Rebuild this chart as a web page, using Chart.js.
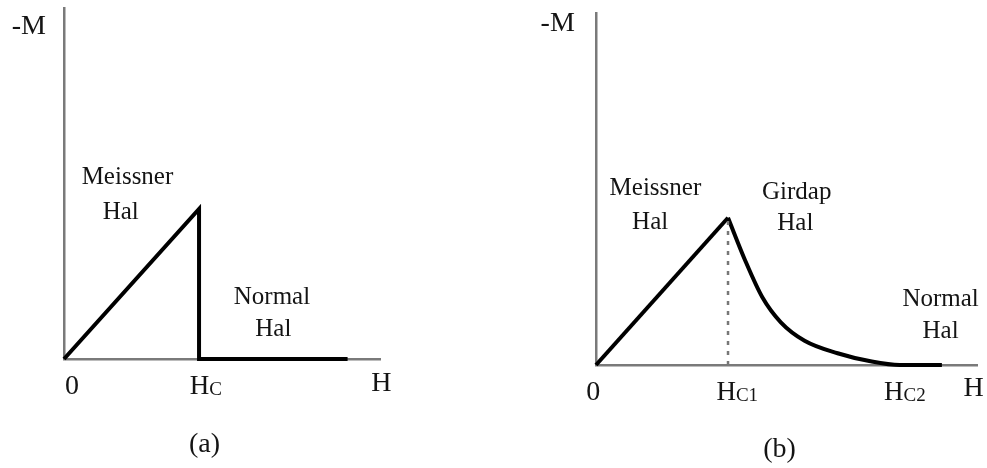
<!DOCTYPE html>
<html lang="tr">
<head>
    <meta charset="UTF-8">
    <title>Meissner / Girdap Hal</title>
    <script src="https://cdn.jsdelivr.net/npm/chart.js@4.4.1/dist/chart.umd.min.js"></script>
    <style>
        body { margin: 0; background: #fff; }
        .panel { position: absolute; top: 0; }
        #chartA { left: 0; }
        #chartB { left: 540px; }
    </style>
</head>
<body>
    <canvas id="chartA" class="panel" width="540" height="468"></canvas>
    <canvas id="chartB" class="panel" width="447" height="468"></canvas>

    <script>
        // (a) tip I: Meissner hali, Hc'de ani geçiş
        const hA = [0, 1, 1, 2.1];
        const mA = [0, 1, 0, 0];

        // (b) tip II: Meissner -> Girdap -> Normal
        const risingH = [0, 1];
        const risingM = [0, 1];
        const fallingH = [1, 1.13, 1.26, 1.40, 1.58, 1.83, 2.08, 2.3, 2.62];
        const fallingM = [1, 0.71, 0.46, 0.29, 0.165, 0.08, 0.025, 0, 0];
        const hc1GuideH = [1, 1];
        const hc1GuideM = [0, 1];

        // tick labels under the H axis
        const ticksA = [{ text: '0', x: 0.06 }, { text: 'H', sub: 'C', x: 1.05 }];
        const ticksB = [{ text: '0', x: -0.02 }, { text: 'H', sub: 'C1', x: 1.07 }, { text: 'H', sub: 'C2', x: 2.34 }];

        // region and axis labels, placed in data units
        const notesA = [
            { text: '-M', x: -0.26, y: 2.23, big: true },
            { text: 'Meissner', x: 0.47, y: 1.22 },
            { text: 'Hal', x: 0.42, y: 0.99 },
            { text: 'Normal', x: 1.54, y: 0.42 },
            { text: 'Hal', x: 1.55, y: 0.21 },
            { text: 'H', x: 2.35, y: -0.15, big: true },
            { text: '(a)', x: 1.04, y: -0.56, big: true }
        ];
        const notesB = [
            { text: '-M', x: -0.29, y: 2.33, big: true },
            { text: 'Meissner', x: 0.45, y: 1.21 },
            { text: 'Hal', x: 0.41, y: 0.98 },
            { text: 'Girdap', x: 1.52, y: 1.18 },
            { text: 'Hal', x: 1.51, y: 0.97 },
            { text: 'Normal', x: 2.61, y: 0.46 },
            { text: 'Hal', x: 2.61, y: 0.24 },
            { text: 'H', x: 2.86, y: -0.15, big: true },
            { text: '(b)', x: 1.39, y: -0.56, big: true }
        ];

        const FONT = "'Liberation Serif', 'Times New Roman', serif";
        const INK = '#141414';

        const toPoints = (xs, ys) => xs.map((x, i) => ({ x: x, y: ys[i] }));

        function drawText(ctx, item, px, py) {
            const size = item.big ? 28 : (item.sub ? 27 : 25);
            const small = 19;
            ctx.font = size + 'px ' + FONT;
            const w1 = ctx.measureText(item.text).width;
            let w2 = 0;
            if (item.sub) {
                ctx.font = small + 'px ' + FONT;
                w2 = ctx.measureText(item.sub).width;
            }
            const left = px - (w1 + w2) / 2;
            const base = py + size * 0.33;
            ctx.textAlign = 'left';
            ctx.textBaseline = 'alphabetic';
            ctx.fillStyle = INK;
            ctx.font = size + 'px ' + FONT;
            ctx.fillText(item.text, left, base);
            if (item.sub) {
                ctx.font = small + 'px ' + FONT;
                ctx.fillText(item.sub, left + w1, base + 1);
            }
        }

        const labelPlugin = {
            id: 'labelPlugin',
            afterDraw(chart, args, opts) {
                const { ctx, scales } = chart;
                ctx.save();
                (opts.notes || []).forEach(n => {
                    drawText(ctx, n, scales.x.getPixelForValue(n.x), scales.y.getPixelForValue(n.y));
                });
                (opts.ticks || []).forEach(t => {
                    drawText(ctx, Object.assign({ big: t.text === '0' }, t),
                        scales.x.getPixelForValue(t.x), scales.y.getPixelForValue(0) + 26);
                });
                ctx.restore();
            }
        };

        function axisOptions(max) {
            return {
                type: 'linear',
                min: 0,
                max: max,
                grid: { display: true, drawOnChartArea: false, drawTicks: false },
                border: { display: true, color: '#7a7a7a', width: 2.5 },
                ticks: { display: false }
            };
        }

        function curve(points, extra) {
            return Object.assign({
                data: points,
                borderColor: '#000',
                borderWidth: 4,
                pointRadius: 0,
                fill: false,
                clip: false,
                tension: 0,
                borderJoinStyle: 'miter'
            }, extra || {});
        }

        function makeChart(id, datasets, xMax, yMax, padding, notes, ticks) {
            return new Chart(document.getElementById(id), {
                type: 'line',
                data: { datasets: datasets },
                options: {
                    responsive: false,
                    animation: false,
                    layout: { padding: padding },
                    scales: { x: axisOptions(xMax), y: axisOptions(yMax) },
                    plugins: {
                        legend: { display: false },
                        tooltip: { enabled: false },
                        labelPlugin: { notes: notes, ticks: ticks }
                    }
                },
                plugins: [labelPlugin]
            });
        }

        makeChart('chartA',
            [curve(toPoints(hA, mA))],
            2.34, 2.34,
            { left: 64, top: 8, right: 160, bottom: 109 },
            notesA, ticksA);

        makeChart('chartB',
            [
                curve(toPoints(hc1GuideH, hc1GuideM), { borderColor: '#777', borderWidth: 2.5, borderDash: [4, 6] }),
                curve(toPoints(risingH, risingM)),
                curve(toPoints(fallingH, fallingM), { cubicInterpolationMode: 'monotone' })
            ],
            2.886, 2.39,
            { left: 56, top: 13, right: 10, bottom: 103 },
            notesB, ticksB);
    </script>
</body>
</html>
